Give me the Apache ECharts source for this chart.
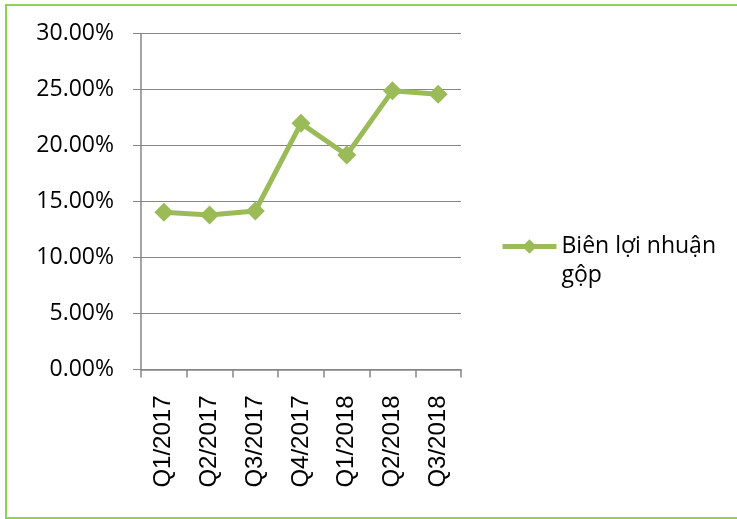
<!DOCTYPE html>
<html>
<head>
<meta charset="utf-8">
<script src="https://cdn.jsdelivr.net/npm/echarts@6/dist/echarts.min.js"></script>
<style>
  html, body { margin: 0; padding: 0; background: #fff; }
  #chart { width: 737px; height: 519px; }
</style>
</head>
<body>
<div id="chart"></div>
<script>
// Quarterly gross margin
const quarters = ['Q1/2017', 'Q2/2017', 'Q3/2017', 'Q4/2017', 'Q1/2018', 'Q2/2018', 'Q3/2018'];
const grossMargin = [0.1405, 0.138, 0.1415, 0.2198, 0.1915, 0.2488, 0.2457];
const seriesName = 'Biên lợi nhuận gộp';
const legendLines = ['Biên lợi nhuận', 'gộp'];

const green = '#9BBB59';
const gridGray = '#868686';

const chart = echarts.init(document.getElementById('chart'), null, { renderer: 'canvas' });

chart.setOption({
  animation: false,
  backgroundColor: '#ffffff',
  graphic: [{
    type: 'rect',
    silent: true,
    z: -1,
    shape: { x: 6, y: 5, width: 760, height: 513 },
    style: { fill: 'none', stroke: '#92D050', lineWidth: 2 }
  }],
  grid: { left: 141, top: 33.5, right: 276, bottom: 149.5, containLabel: false },
  xAxis: {
    type: 'category',
    data: quarters,
    boundaryGap: true,
    axisLine: { show: true, lineStyle: { color: gridGray, width: 1.5 } },
    axisTick: { show: true, length: 8, lineStyle: { color: gridGray, width: 1.5 } },
    axisLabel: {
      rotate: 90,
      margin: 26,
      color: '#000',
      fontFamily: '"Liberation Sans", Arial, sans-serif',
      fontSize: 24
    },
    splitLine: { show: false }
  },
  yAxis: {
    type: 'value',
    min: 0,
    max: 0.30,
    interval: 0.05,
    axisLine: { show: true, lineStyle: { color: gridGray, width: 1.5 } },
    axisTick: { show: true, length: 8, lineStyle: { color: gridGray, width: 1 } },
    axisLabel: {
      margin: 27,
      color: '#000',
      fontFamily: 'Open Sans',
      fontSize: 23,
      formatter: v => (v * 100).toFixed(2) + '%'
    },
    splitLine: { show: true, lineStyle: { color: gridGray, width: 1 } }
  },
  legend: {
    show: true,
    left: 500,
    top: 203,
    padding: 0,
    orient: 'vertical',
    itemWidth: 54,
    itemHeight: 18,
    data: [seriesName],
    lineStyle: { width: 5 },
    // an empty leading line keeps the first wrapped line level with the icon
    formatter: () => ' \n' + legendLines.join('\n'),
    textStyle: {
      color: '#000',
      fontFamily: 'Open Sans',
      fontSize: 23,
      lineHeight: 29
    }
  },
  series: [{
    name: seriesName,
    type: 'line',
    data: grossMargin,
    symbol: 'diamond',
    symbolSize: 19,
    color: green,
    itemStyle: { color: green },
    lineStyle: { color: green, width: 5 }
  }]
});
</script>
</body>
</html>
